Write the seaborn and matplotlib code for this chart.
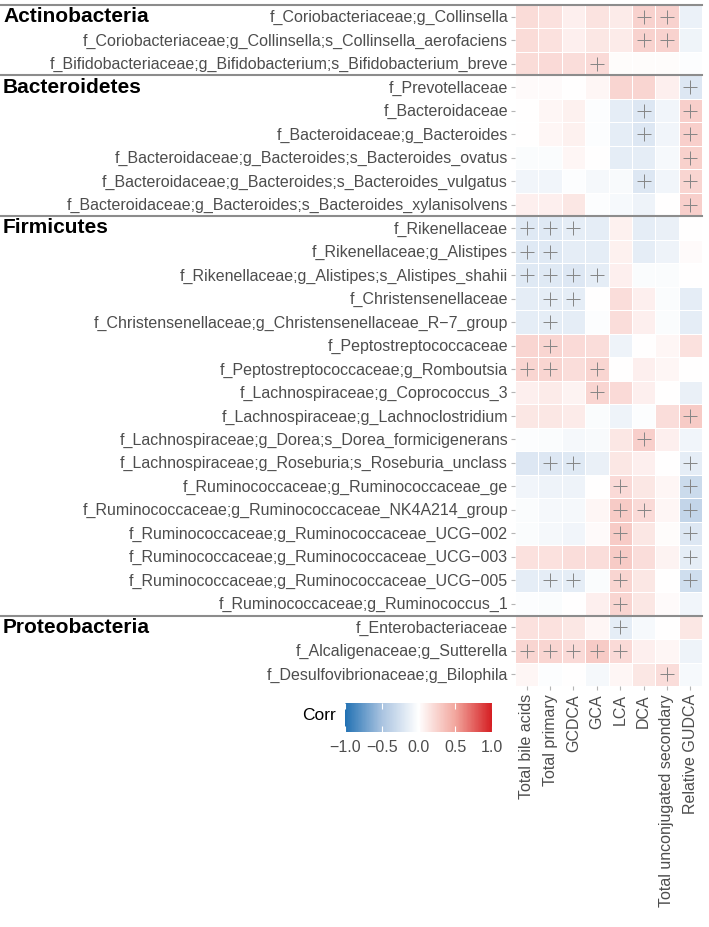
import numpy as np
import pandas as pd
import matplotlib
matplotlib.use('Agg')
import matplotlib.pyplot as plt
import matplotlib.transforms as mtransforms
from matplotlib.colors import LinearSegmentedColormap
import seaborn as sns

# bile acid measures (columns)
measures = ["Total bile acids", "Total primary", "GCDCA", "GCA", "LCA", "DCA",
            "Total unconjugated secondary", "Relative GUDCA"]

# taxa per phylum
actino_taxa = ["f_Coriobacteriaceae;g_Collinsella",
               "f_Coriobacteriaceae;g_Collinsella;s_Collinsella_aerofaciens",
               "f_Bifidobacteriaceae;g_Bifidobacterium;s_Bifidobacterium_breve"]
bactero_taxa = ["f_Prevotellaceae",
                "f_Bacteroidaceae",
                "f_Bacteroidaceae;g_Bacteroides",
                "f_Bacteroidaceae;g_Bacteroides;s_Bacteroides_ovatus",
                "f_Bacteroidaceae;g_Bacteroides;s_Bacteroides_vulgatus",
                "f_Bacteroidaceae;g_Bacteroides;s_Bacteroides_xylanisolvens"]
firmi_taxa = ["f_Rikenellaceae",
              "f_Rikenellaceae;g_Alistipes",
              "f_Rikenellaceae;g_Alistipes;s_Alistipes_shahii",
              "f_Christensenellaceae",
              "f_Christensenellaceae;g_Christensenellaceae_R\u22127_group",
              "f_Peptostreptococcaceae",
              "f_Peptostreptococcaceae;g_Romboutsia",
              "f_Lachnospiraceae;g_Coprococcus_3",
              "f_Lachnospiraceae;g_Lachnoclostridium",
              "f_Lachnospiraceae;g_Dorea;s_Dorea_formicigenerans",
              "f_Lachnospiraceae;g_Roseburia;s_Roseburia_unclass",
              "f_Ruminococcaceae;g_Ruminococcaceae_ge",
              "f_Ruminococcaceae;g_Ruminococcaceae_NK4A214_group",
              "f_Ruminococcaceae;g_Ruminococcaceae_UCG\u2212002",
              "f_Ruminococcaceae;g_Ruminococcaceae_UCG\u2212003",
              "f_Ruminococcaceae;g_Ruminococcaceae_UCG\u2212005",
              "f_Ruminococcaceae;g_Ruminococcus_1"]
proteo_taxa = ["f_Enterobacteriaceae",
               "f_Alcaligenaceae;g_Sutterella",
               "f_Desulfovibrionaceae;g_Bilophila"]

# correlation values
actino_corr = [[0.20, 0.17, 0.09, 0.16, 0.11, 0.25, 0.25, -0.11],
               [0.20, 0.17, 0.09, 0.14, 0.11, 0.25, 0.25, -0.09],
               [0.20, 0.21, 0.19, 0.21, 0.02, 0.02, 0.02, -0.02]]
bactero_corr = [[0.03, 0.03, 0.00, 0.05, 0.24, 0.24, 0.09, -0.20],
                [0.00, 0.05, 0.08, -0.02, -0.15, -0.20, -0.08, 0.27],
                [0.00, 0.05, 0.08, -0.02, -0.15, -0.20, -0.08, 0.27],
                [-0.03, -0.03, 0.05, 0.00, -0.15, -0.15, -0.05, 0.26],
                [-0.08, -0.08, -0.02, -0.06, -0.04, -0.20, -0.08, 0.24],
                [0.09, 0.09, 0.14, -0.02, -0.05, -0.10, 0.00, 0.27]]
firmi_corr = [[-0.18, -0.18, -0.15, -0.15, 0.08, -0.15, -0.12, 0.00],
              [-0.18, -0.18, -0.15, -0.15, 0.08, -0.15, -0.10, 0.03],
              [-0.18, -0.18, -0.20, -0.15, 0.09, -0.03, -0.03, 0.00],
              [-0.15, -0.15, -0.15, 0.00, 0.19, 0.09, -0.03, -0.15],
              [-0.15, -0.15, -0.15, -0.02, 0.19, 0.09, -0.03, -0.15],
              [0.24, 0.24, 0.21, 0.19, -0.10, 0.00, 0.05, 0.17],
              [0.24, 0.24, 0.19, 0.24, 0.00, 0.09, 0.05, 0.00],
              [0.09, 0.11, 0.07, 0.24, 0.21, 0.09, 0.00, -0.12],
              [0.14, 0.14, 0.11, -0.03, -0.10, -0.02, 0.19, 0.29],
              [-0.02, -0.03, -0.06, -0.04, 0.14, 0.27, 0.09, -0.08],
              [-0.20, -0.20, -0.18, -0.12, 0.14, 0.09, 0.00, -0.15],
              [-0.08, -0.10, -0.10, 0.00, 0.21, 0.14, 0.05, -0.30],
              [-0.03, -0.06, -0.06, 0.05, 0.29, 0.21, 0.05, -0.35],
              [-0.03, -0.06, -0.08, 0.03, 0.29, 0.14, 0.02, -0.20],
              [0.17, 0.17, 0.19, 0.19, 0.29, 0.19, 0.07, -0.15],
              [-0.15, -0.15, -0.15, -0.03, 0.24, 0.14, 0.00, -0.28],
              [-0.02, -0.03, 0.00, 0.09, 0.24, 0.14, 0.03, -0.08]]
proteo_corr = [[0.17, 0.17, 0.14, 0.05, -0.15, -0.05, 0.00, 0.14],
               [0.24, 0.24, 0.21, 0.29, 0.21, 0.09, 0.05, -0.10],
               [0.05, -0.02, 0.00, -0.06, 0.05, 0.14, 0.19, -0.05]]

# significance flags, one char per measure
actino_sig = ["00000110", "00000110", "00010000"]
bactero_sig = ["00000001", "00000101", "00000101", "00000001", "00000101", "00000001"]
firmi_sig = ["11100000", "11000000", "11110000", "01100000", "01000000", "01000000",
             "11010000", "00010000", "00000001", "00000100", "01100001", "00001001",
             "00001101", "00001001", "00001001", "01101001", "00001000"]
proteo_sig = ["00001000", "11111000", "00000010"]

phyla = ["Actinobacteria", "Bacteroidetes", "Firmicutes", "Proteobacteria"]

groups = [(actino_taxa, actino_corr, actino_sig),
          (bactero_taxa, bactero_corr, bactero_sig),
          (firmi_taxa, firmi_corr, firmi_sig),
          (proteo_taxa, proteo_corr, proteo_sig)]

taxa, corr, sig, starts = [], [], [], []
for t, c, s in groups:
    starts.append(len(taxa))
    taxa += t
    corr += c
    sig += s

df = pd.DataFrame(corr, index=taxa, columns=measures)
sig_mat = np.array([[ch == "1" for ch in row] for row in sig])

plt.rcParams['font.family'] = ['Liberation Sans', 'DejaVu Sans']

W, H = 709, 928
fig = plt.figure(figsize=(W / 100, H / 100), dpi=100)
ax = fig.add_axes([515 / W, 1 - 687 / H, 187 / W, (687 - 6) / H])
cax = fig.add_axes([345 / W, 1 - 733 / H, 147 / W, 29 / H])

cmap = LinearSegmentedColormap.from_list(
    'corr', ['#2271B3', '#A9C3E0', '#FFFFFF', '#F2A79E', '#D51E22'])
sns.heatmap(df, ax=ax, cmap=cmap, vmin=-1, vmax=1, linewidths=0.4, linecolor='white',
            cbar_ax=cax, cbar_kws={'orientation': 'horizontal', 'ticks': [-1, -0.5, 0, 0.5, 1]})

# significance crosses
rr, cc = np.nonzero(sig_mat)
ax.scatter(cc + 0.5, rr + 0.5, marker='+', s=115, color='#858585', linewidths=0.7, zorder=3)

ax.tick_params(axis='both', length=3, width=0.8, color='#b5b5b5', labelcolor='#4d4d4d',
               labelsize=11.5, pad=2)
ax.set_yticklabels(taxa, rotation=0)
ax.set_xticklabels(measures, rotation=90)
ax.set_xlabel('')
ax.set_ylabel('')

# phylum separators and labels
trans = mtransforms.blended_transform_factory(fig.transFigure, ax.transData)
for name, st in zip(phyla, starts):
    ax.axhline(st, xmin=-515 / 187, xmax=1, color='#8c8c8c', lw=1.5, clip_on=False, zorder=4)
    ax.text(3 / W, st + 0.45, name, transform=trans, fontsize=15, fontweight='bold',
            color='black', ha='left', va='center')

# colorbar styling
cax.tick_params(axis='x', which='both', direction='in', length=4, color='white', width=0.8,
                labelcolor='#4d4d4d', labelsize=11.5, pad=5, top=True)
cax.set_xticklabels(['\u22121.0', '\u22120.5', '0.0', '0.5', '1.0'])
for sp in cax.spines.values():
    sp.set_visible(False)
fig.text(302 / W, 1 - 716 / H, 'Corr', fontsize=12.5, color='black', ha='left', va='center')

fig.savefig('out.png', dpi=100)
